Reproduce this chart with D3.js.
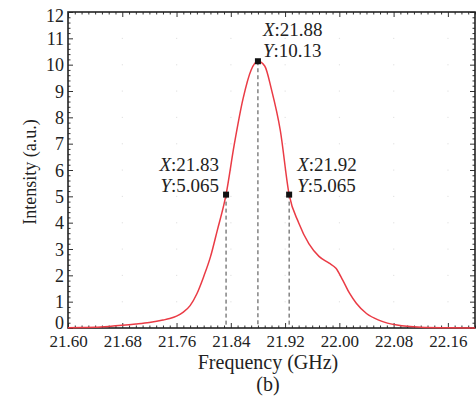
<!DOCTYPE html>
<html><head><meta charset="utf-8">
<script src="https://cdn.jsdelivr.net/npm/d3@7"></script>
<style>
html,body{margin:0;padding:0;background:#fff;}
svg{display:block;}
svg text{font-family:"Liberation Serif","Tinos","Times New Roman",Times,"DejaVu Serif","Noto Serif",serif;fill:#222;}
</style></head>
<body>
<svg id="chart" width="476" height="396"></svg>
<script>
// ---- data ----
const freq = [21.600, 21.620, 21.640, 21.660, 21.680, 21.700, 21.720, 21.740, 21.750, 21.760, 21.770, 21.780, 21.790, 21.800, 21.810, 21.820, 21.833, 21.845, 21.858, 21.870, 21.880, 21.890, 21.900, 21.913, 21.926, 21.940, 21.955, 21.970, 21.985, 21.995, 22.005, 22.015, 22.025, 22.040, 22.060, 22.085, 22.120, 22.160, 22.200];
const intensity = [0.01, 0.02, 0.03, 0.06, 0.10, 0.15, 0.21, 0.30, 0.36, 0.45, 0.60, 0.85, 1.30, 1.95, 2.70, 3.70, 5.065, 6.95, 8.70, 9.80, 10.13, 9.95, 9.05, 7.50, 5.065, 4.00, 3.20, 2.72, 2.46, 2.27, 1.82, 1.32, 0.94, 0.55, 0.28, 0.11, 0.03, 0.01, 0.00];
const xTicks = [21.60, 21.68, 21.76, 21.84, 21.92, 22.00, 22.08, 22.16];
const yTicks = [0,1,2,3,4,5,6,7,8,9,10,11,12];
const markX = [21.833, 21.880, 21.926];
const markY = [5.065, 10.13, 5.065];
const markXText = ["21.83", "21.88", "21.92"];
const markYText = ["5.065", "10.13", "5.065"];
const xTitle = "Frequency (GHz)";
const yTitle = "Intensity (a.u.)";
const caption = "(b)";

// ---- layout ----
const L = 68, R = 475, T = 12, B = 328;
const FONT = '"Liberation Serif","Tinos","Times New Roman",Times,"DejaVu Serif",serif';
const svg = d3.select("#chart");
const x = d3.scaleLinear().domain([21.60, 22.20]).range([L, R]);
const y = d3.scaleLinear().domain([0, 12]).range([B, T]);

const xMinor = d3.range(0, 61).map(i => 21.60 + i * 0.01).filter(v => !xTicks.some(t => Math.abs(t - v) < 1e-6));
const yMinor = d3.range(0, 61).map(i => i * 0.2).filter(v => Math.abs(v - Math.round(v)) > 1e-6);

// faint grid dots
const gd = svg.append("g");
xTicks.slice(1).forEach(xt => yTicks.slice(1, -1).forEach(yt => {
  gd.append("rect").attr("x", x(xt) - 0.5).attr("y", y(yt) - 0.5).attr("width", 1.2).attr("height", 1.2).attr("fill", "#e4e4e4");
}));

function styleAxis(g) {
  g.attr("font-family", FONT);
  g.selectAll("path").remove();
  g.selectAll("line").attr("stroke", "#333").attr("stroke-width", 1);
}
// bottom axis
svg.append("g").attr("transform", `translate(0,${B})`)
  .call(d3.axisBottom(x).tickValues(xTicks).tickFormat(d => d.toFixed(2)).tickSizeInner(-5).tickSizeOuter(0).tickPadding(7))
  .call(styleAxis)
  .call(g => g.selectAll("text").attr("font-size", 17).attr("fill", "#222"));
svg.append("g").attr("transform", `translate(0,${B})`)
  .call(d3.axisBottom(x).tickValues(xMinor).tickFormat("").tickSizeInner(-2.5).tickSizeOuter(0))
  .call(styleAxis);
// top axis
svg.append("g").attr("transform", `translate(0,${T})`)
  .call(d3.axisTop(x).tickValues(xTicks).tickFormat("").tickSizeInner(-5).tickSizeOuter(0))
  .call(styleAxis);
svg.append("g").attr("transform", `translate(0,${T})`)
  .call(d3.axisTop(x).tickValues(xMinor).tickFormat("").tickSizeInner(-2.5).tickSizeOuter(0))
  .call(styleAxis);
// left axis
svg.append("g").attr("transform", `translate(${L},0)`)
  .call(d3.axisLeft(y).tickValues(yTicks).tickFormat(d3.format("d")).tickSizeInner(-5).tickSizeOuter(0).tickPadding(4))
  .call(styleAxis)
  .call(g => g.selectAll("text").attr("font-size", 18).attr("fill", "#222").attr("dy", d => d === 0 ? "0em" : (d === 12 ? "0.5em" : "0.34em")));
svg.append("g").attr("transform", `translate(${L},0)`)
  .call(d3.axisLeft(y).tickValues(yMinor).tickFormat("").tickSizeInner(-2.5).tickSizeOuter(0))
  .call(styleAxis);
// right axis
svg.append("g").attr("transform", `translate(${R},0)`)
  .call(d3.axisRight(y).tickValues(yTicks).tickFormat("").tickSizeInner(-5).tickSizeOuter(0))
  .call(styleAxis);
svg.append("g").attr("transform", `translate(${R},0)`)
  .call(d3.axisRight(y).tickValues(yMinor).tickFormat("").tickSizeInner(-2.5).tickSizeOuter(0))
  .call(styleAxis);

// frame
svg.append("rect").attr("x", L).attr("y", T).attr("width", R - L).attr("height", B - T)
  .attr("fill", "none").attr("stroke", "#222").attr("stroke-width", 1.6);

// dashed drop lines
const pts = markX.map((v, i) => ({x: v, y: markY[i], xt: markXText[i], yt: markYText[i]}));
svg.append("g").selectAll("line").data(pts).join("line")
  .attr("x1", d => x(d.x)).attr("x2", d => x(d.x))
  .attr("y1", d => y(d.y)).attr("y2", y(0))
  .attr("stroke", "#444").attr("stroke-width", 1).attr("stroke-dasharray", "4,3");

// curve
const data = freq.map((f, i) => [f, intensity[i]]);
svg.append("path").datum(data)
  .attr("d", d3.line().x(d => x(d[0])).y(d => y(d[1])).curve(d3.curveMonotoneX))
  .attr("fill", "none").attr("stroke", "#ea3b45").attr("stroke-width", 1.5);

// markers
svg.append("g").selectAll("rect").data(pts).join("rect")
  .attr("x", d => x(d.x) - 3).attr("y", d => y(d.y) - 3).attr("width", 6).attr("height", 6).attr("fill", "#111");

// annotation labels
const ann = [
  {anchor: "end", dx: -7, dy1: -24, dy2: -3},
  {anchor: "start", dx: 5, dy1: -25, dy2: -4},
  {anchor: "start", dx: 8, dy1: -24, dy2: -3}
];
pts.forEach((d, i) => {
  const a = ann[i];
  const t1 = svg.append("text").attr("x", x(d.x) + a.dx).attr("y", y(d.y) + a.dy1)
    .attr("text-anchor", a.anchor).attr("font-size", 19).attr("font-family", FONT);
  t1.append("tspan").attr("font-style", "italic").text("X");
  t1.append("tspan").text(":" + d.xt);
  const t2 = svg.append("text").attr("x", x(d.x) + a.dx).attr("y", y(d.y) + a.dy2)
    .attr("text-anchor", a.anchor).attr("font-size", 19).attr("font-family", FONT);
  t2.append("tspan").attr("font-style", "italic").text("Y");
  t2.append("tspan").text(":" + d.yt);
});

// titles
svg.append("text").attr("x", 268).attr("y", 369).attr("text-anchor", "middle").attr("font-size", 20).attr("font-family", FONT).text(xTitle);
svg.append("text").attr("x", 268).attr("y", 391).attr("text-anchor", "middle").attr("font-size", 20).attr("font-family", FONT).text(caption);
svg.append("text").attr("transform", `translate(36,${(T + B) / 2 + 2}) rotate(-90)`).attr("text-anchor", "middle").attr("font-size", 18).attr("font-family", FONT).text(yTitle);
</script>
</body></html>
